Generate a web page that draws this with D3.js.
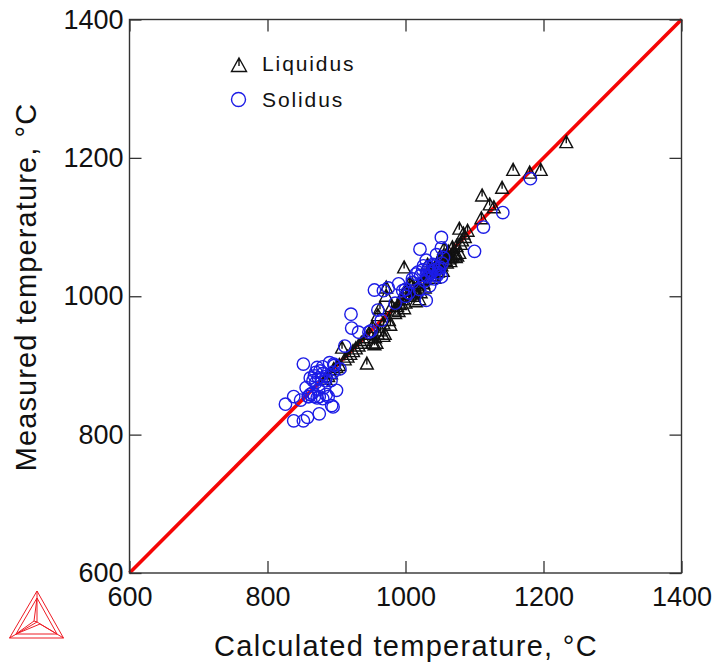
<!DOCTYPE html>
<html>
<head>
<meta charset="utf-8">
<script src="https://cdn.jsdelivr.net/npm/d3@7"></script>
<style>
html, body { margin: 0; padding: 0; background: #fff; }
text { font-family: "Liberation Sans", Arial, sans-serif; fill: #111; }
</style>
</head>
<body>
<svg id="chart" width="715" height="664"></svg>
<script>
// Values, in degrees C
const tickValues = [600, 800, 1000, 1200, 1400];

const liquidusCalc = [1233, 1196, 1180, 1156, 1140, 1111, 1122, 1128, 1110, 1090, 1086, 1078, 1082, 1074, 1068, 1062, 1055, 1050, 1072, 1066, 1058, 1048, 1044, 1040, 1034, 1030, 1028, 1024, 1018, 1012, 1010, 1006, 1002, 998, 995, 1000, 1004, 992, 988, 984, 980, 976, 972, 968, 964, 960, 956, 952, 948, 944, 940, 936, 932, 928, 924, 920, 916, 912, 908, 904, 900, 896, 892, 888, 884, 944, 955, 970, 963, 972, 985, 998, 1012, 1020, 1032, 1047, 1060, 1075, 1080, 1070, 1064, 1052, 1046, 1038, 1026, 1016, 1008, 1003, 997, 990, 960, 952, 1056, 1060, 1068, 1084, 1036, 1022, 1078, 1073, 1065, 1054, 1042, 1015, 968, 958, 978, 1028];
const liquidusMeas = [1222, 1182, 1178, 1182, 1156, 1145, 1132, 1128, 1112, 1094, 1085, 1097, 1080, 1072, 1070, 1064, 1058, 1055, 1060, 1056, 1052, 1050, 1042, 1038, 1034, 1030, 1024, 1022, 1015, 1010, 1016, 1018, 1008, 1041, 995, 990, 1000, 988, 985, 980, 985, 965, 1012, 960, 950, 945, 940, 932, 945, 940, 936, 932, 928, 924, 920, 916, 912, 908, 925, 900, 897, 894, 888, 884, 880, 902, 930, 945, 982, 1000, 975, 982, 1000, 995, 1045, 1035, 1060, 1058, 1075, 1062, 1054, 1044, 1036, 1030, 1018, 1006, 1003, 1012, 1003, 978, 972, 955, 1068, 1048, 1058, 1090, 1040, 1005, 1062, 1056, 1050, 1036, 1026, 992, 942, 932, 958, 1012];

const solidusCalc = [1181, 1141, 1113, 1100, 1052, 1021, 1052, 1045, 1055, 1030, 1040, 1048, 1035, 1025, 1015, 1010, 1030, 1042, 1052, 1035, 1020, 1005, 1000, 996, 1030, 1050, 1028, 975, 968, 955, 950, 985, 965, 960, 947, 921, 922, 932, 912, 897, 852, 872, 880, 890, 868, 862, 878, 885, 870, 856, 865, 874, 882, 860, 872, 888, 900, 893, 895, 896, 875, 868, 859, 848, 838, 826, 838, 892, 880, 874, 852, 858, 875, 885, 895, 905, 990, 1000, 1010, 1018, 1040, 1046, 1032, 1037, 1043, 1026, 1048, 1053, 1034, 1022, 870, 876, 866, 884, 862, 880];
const solidusMeas = [1170, 1121, 1100, 1065, 1085, 1068, 1070, 1060, 1056, 1052, 1046, 1040, 1036, 1038, 1032, 1020, 1030, 1025, 1028, 1015, 1010, 1005, 1000, 1008, 994, 1042, 1022, 1012, 1008, 1009, 950, 990, 965, 980, 948, 974, 954, 948, 928, 900, 902, 897, 898, 904, 885, 882, 880, 884, 875, 868, 860, 865, 868, 855, 853, 855, 864, 842, 840, 902, 830, 855, 855, 850, 855, 844, 820, 878, 888, 882, 820, 825, 855, 858, 890, 895, 1018, 1010, 1025, 1035, 1044, 1030, 1028, 1033, 1038, 1044, 1034, 1048, 1042, 1030, 890, 892, 878, 878, 858, 852];

const liquidus = liquidusCalc.map((d, i) => [d, liquidusMeas[i]]);
const solidus = solidusCalc.map((d, i) => [d, solidusMeas[i]]);

const svg = d3.select("#chart");

const x = d3.scaleLinear().domain([600, 1400]).range([129.5, 681.5]);
const y = d3.scaleLinear().domain([600, 1400]).range([573, 19.5]);

// Identity line
svg.append("line")
    .attr("x1", x(600)).attr("y1", y(600))
    .attr("x2", x(1400)).attr("y2", y(1400))
    .attr("stroke", "#f50505")
    .attr("stroke-width", 3.6);

// Triangle marker with the short stem inside
const triPath = "M0,-7L6.4,5L-6.4,5Z M0,-7L0,0.5";

svg.append("g").selectAll("path")
    .data(liquidus)
    .join("path")
    .attr("d", triPath)
    .attr("transform", d => `translate(${x(d[0])},${y(d[1])})`)
    .attr("fill", "none")
    .attr("stroke", "#111")
    .attr("stroke-width", 1.4);

svg.append("g").selectAll("circle")
    .data(solidus)
    .join("circle")
    .attr("cx", d => x(d[0]))
    .attr("cy", d => y(d[1]))
    .attr("r", 6.2)
    .attr("fill", "none")
    .attr("stroke", "#1c1ce6")
    .attr("stroke-width", 1.4);

// Frame
svg.append("rect")
    .attr("x", x(600)).attr("y", y(1400))
    .attr("width", x(1400) - x(600))
    .attr("height", y(600) - y(1400))
    .attr("fill", "none")
    .attr("stroke", "#333")
    .attr("stroke-width", 1.4);

// Axes: ticks point inward on all four sides
function styleAxis(g) {
    g.select(".domain").remove();
    g.selectAll("line").attr("stroke", "#333").attr("stroke-width", 1.3);
    g.selectAll("text").attr("font-size", 27).attr("fill", "#111");
}
const fmt = d3.format("d");

svg.append("g").attr("transform", `translate(0,${y(600)})`)
    .call(d3.axisBottom(x).tickValues(tickValues).tickFormat(fmt).tickSizeInner(-12).tickPadding(14))
    .call(styleAxis);
svg.append("g").attr("transform", `translate(${x(600)},0)`)
    .call(d3.axisLeft(y).tickValues(tickValues).tickFormat(fmt).tickSizeInner(-12).tickPadding(6))
    .call(styleAxis);
svg.append("g").attr("transform", `translate(0,${y(1400)})`)
    .call(d3.axisTop(x).tickValues(tickValues).tickFormat("").tickSizeInner(-12))
    .call(styleAxis);
svg.append("g").attr("transform", `translate(${x(1400)},0)`)
    .call(d3.axisRight(y).tickValues(tickValues).tickFormat("").tickSizeInner(-12))
    .call(styleAxis);

// Axis titles
svg.append("text")
    .attr("x", 406).attr("y", 656)
    .attr("text-anchor", "middle")
    .attr("font-size", 29)
    .attr("letter-spacing", 1.3)
    .text("Calculated temperature, °C");

svg.append("text")
    .attr("transform", "translate(36,287) rotate(-90)")
    .attr("text-anchor", "middle")
    .attr("font-size", 29)
    .attr("letter-spacing", 1.1)
    .text("Measured temperature, °C");

// Legend
const legend = svg.append("g");
legend.append("path")
    .attr("d", "M0,-7L7.5,6.5L-7.5,6.5Z M0,-7L0,1")
    .attr("transform", "translate(239,65)")
    .attr("fill", "none").attr("stroke", "#111").attr("stroke-width", 1.4);
legend.append("circle")
    .attr("cx", 238.5).attr("cy", 99.5).attr("r", 7)
    .attr("fill", "none").attr("stroke", "#1c1ce6").attr("stroke-width", 1.4);
legend.append("text").attr("x", 262).attr("y", 71)
    .attr("font-size", 21).attr("letter-spacing", 1.9).text("Liquidus");
legend.append("text").attr("x", 262).attr("y", 107)
    .attr("font-size", 21).attr("letter-spacing", 1.9).text("Solidus");

// Thermo-Calc style logo, bottom left
const logo = svg.append("g")
    .attr("fill", "none").attr("stroke", "#ee1c25").attr("stroke-width", 1);
logo.append("path").attr("d", "M37,591L63.500,638L9.500,638Z");
logo.append("path").attr("d", "M37,591L37,622L9.500,638M37,622L63.500,638");
logo.append("path").attr("d", "M37,598L57,634L16,634Z M37,598L34,621L16,634 M34,621L37,622 M40,624L57,634 M40,624L16,634");
</script>
</body>
</html>
